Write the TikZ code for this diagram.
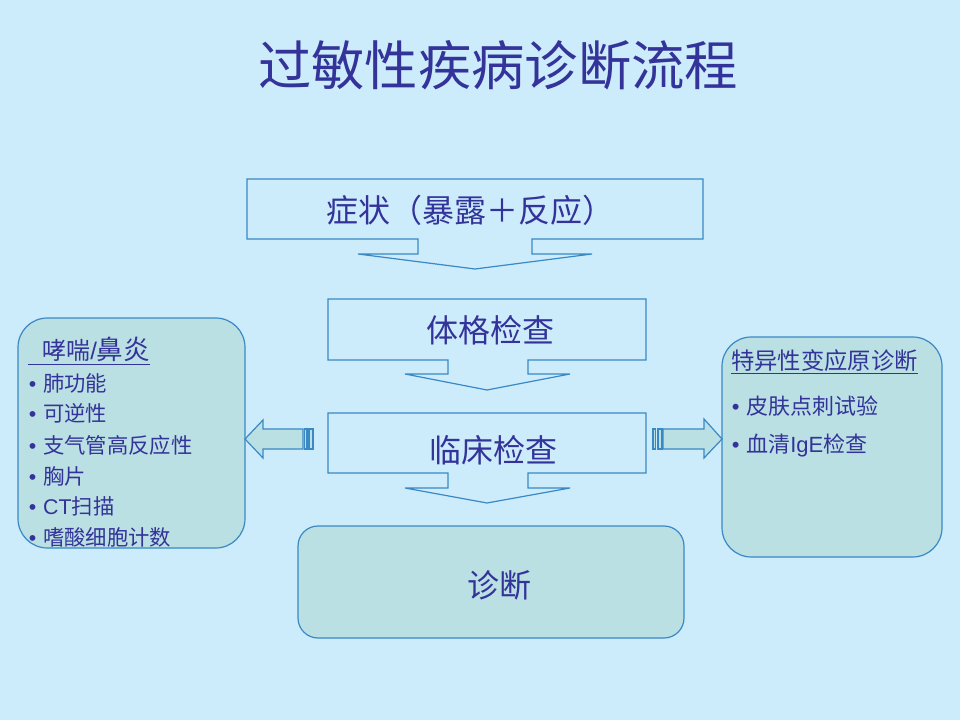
\documentclass[tikz,border=0pt]{standalone}
\usepackage{fontspec}
\setmainfont{Noto Sans CJK SC}
\newfontfamily\latinf{Liberation Sans}
\definecolor{bg}{HTML}{CCECFC}
\definecolor{fillb}{HTML}{BBE0E3}
\definecolor{ln}{HTML}{3A88C4}
\definecolor{txt}{HTML}{333399}
\newcommand\bul{\makebox[11.25pt][l]{\hspace{0.5pt}{\latinf •}}}
\begin{document}
\begin{tikzpicture}[x=0.75pt,y=-0.75pt,
  callout/.style={draw=ln, fill=bg, line width=0.9pt, line join=miter},
  rbox/.style={draw=ln, fill=fillb, line width=0.9pt, rounded corners=22pt},
  sarrow/.style={draw=ln, fill=fillb, line width=0.9pt},
  lbl/.style={text=txt, inner sep=0pt},
  boxtext/.style={lbl, font=\fontsize{24pt}{28pt}\selectfont},
  ltext/.style={lbl, anchor=west, font=\fontsize{16pt}{19pt}\selectfont},
  rtext/.style={lbl, anchor=west, font=\fontsize{16.5pt}{19pt}\selectfont},
]
\fill[bg] (0,0) rectangle (960,720);
\useasboundingbox (0,0) rectangle (960,720);

% title
\node[lbl, font=\fontsize{40pt}{46pt}\selectfont] (title) at (498,65) {过敏性疾病诊断流程};

% callout 1
\path[callout] (247,179) -- (703,179) -- (703,239) -- (532,239) -- (532,254) -- (592,254)
  -- (475,269) -- (358,254) -- (418,254) -- (418,239) -- (247,239) -- cycle;
\node[boxtext] (symptom) at (470,210) {症状（暴露＋反应）};

% callout 2
\path[callout] (328,299) -- (646,299) -- (646,360) -- (528,360) -- (528,374) -- (570,374)
  -- (487,390) -- (405,374) -- (448,374) -- (448,360) -- (328,360) -- cycle;
\node[boxtext] (physical) at (490,330) {体格检查};

% callout 3
\path[callout] (328,413) -- (646,413) -- (646,473) -- (528,473) -- (528,488) -- (570,488)
  -- (487,503) -- (405,488) -- (448,488) -- (448,473) -- (328,473) -- cycle;
\node[boxtext] (clinical) at (493,450) {临床检查};

% diagnosis
\path[rbox, rounded corners=15pt] (298,526) rectangle (684,638);
\node[boxtext] (diag) at (499,585) {诊断};

% left box
\path[rbox] (18,318) rectangle (245,548);
\node[lbl, anchor=west, font=\fontsize{18pt}{20pt}\selectfont] (lhead) at (28,351) {\underline{\hspace{10.5pt}哮喘{\latinf /}{\fontsize{20pt}{22pt}\selectfont 鼻炎}}};
\node[ltext] (l1) at (28,383) {\bul 肺功能};
\node[ltext] (l2) at (28,413) {\bul 可逆性};
\node[ltext] (l3) at (28,445) {\bul 支气管高反应性};
\node[ltext] (l4) at (28,476) {\bul 胸片};
\node[ltext] (l5) at (28,506) {\bul {\latinf CT}扫描};
\node[ltext] (l6) at (28,537) {\bul 嗜酸细胞计数};

% right box
\path[rbox] (722,337) rectangle (942,557);
\node[lbl, anchor=west, font=\fontsize{17.5pt}{20pt}\selectfont] (rhead) at (731,362) {\underline{特异性变应原诊断}};
\node[rtext] (r1) at (731,406) {\bul 皮肤点刺试验};
\node[rtext] (r2) at (731,445) {\bul 血清{\latinf IgE}检查};

% left striped arrow
\path[sarrow] (245,439) -- (263,420) -- (263,429) -- (303,429) -- (303,449) -- (263,449) -- (263,458) -- cycle;
\path[sarrow] (304.5,429) rectangle (307,449);
\path[sarrow] (309,429) rectangle (313,449);

% right striped arrow
\path[sarrow] (722,439) -- (704,419) -- (704,429) -- (663,429) -- (663,449) -- (704,449) -- (704,458) -- cycle;
\path[sarrow] (653,429) rectangle (655.5,449);
\path[sarrow] (658,429) rectangle (662,449);
\end{tikzpicture}
\end{document}
